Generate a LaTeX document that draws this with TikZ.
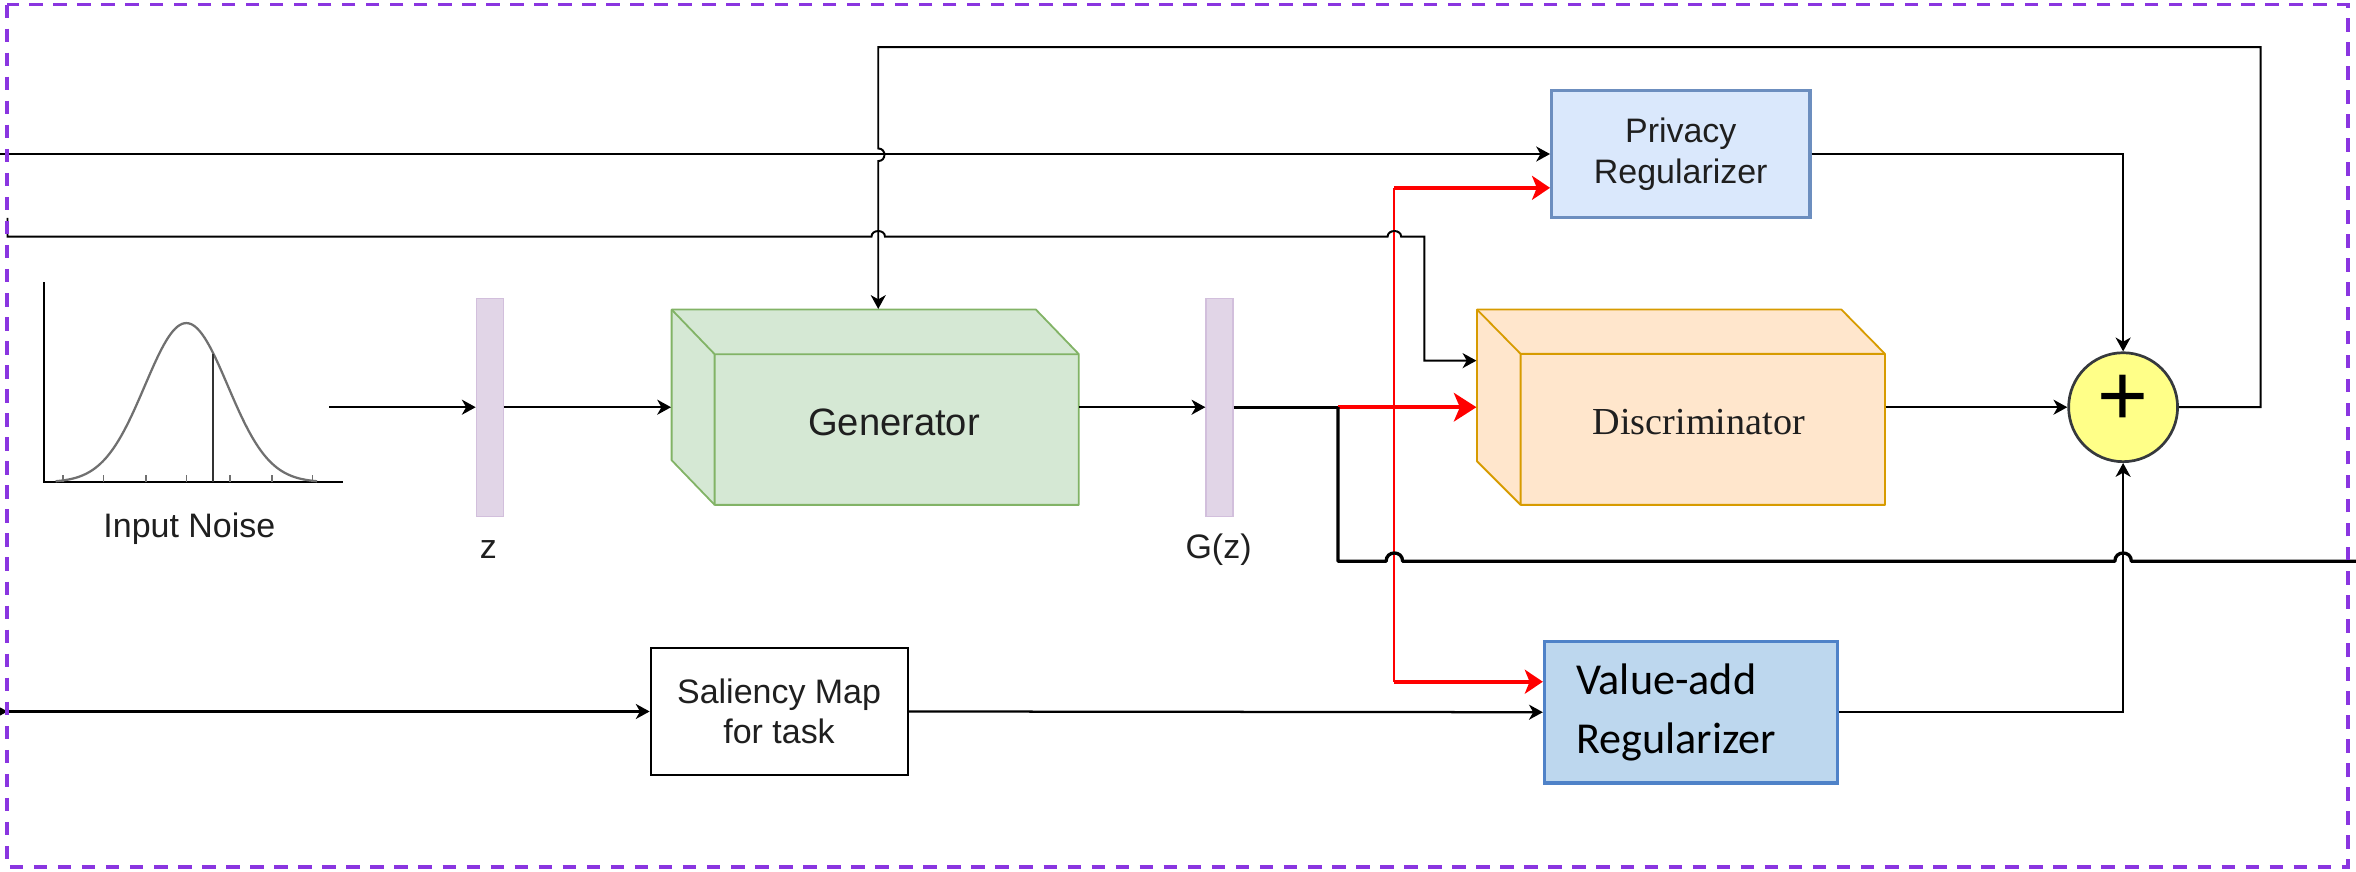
\documentclass[tikz,border=0pt]{standalone}
\usepackage{fontspec}
\setmainfont{Liberation Sans}
\newfontfamily\serifdisc{Liberation Serif}
\newfontfamily\calib{Carlito}
\usetikzlibrary{arrows.meta}
\definecolor{bordercol}{HTML}{8A35E0}
\definecolor{barfill}{HTML}{E1D5E7}
\definecolor{barline}{HTML}{D2BFDC}
\definecolor{genfill}{HTML}{D5E8D4}
\definecolor{genline}{HTML}{82B366}
\definecolor{discfill}{HTML}{FFE6CC}
\definecolor{discline}{HTML}{D79B00}
\definecolor{privfill}{HTML}{DAE8FC}
\definecolor{privline}{HTML}{6C8EBF}
\definecolor{valfill}{HTML}{BDD7EE}
\definecolor{valline}{HTML}{4F82C8}
\definecolor{plusfill}{HTML}{FFFF88}
\definecolor{plusline}{HTML}{36393D}
\definecolor{txt}{HTML}{1F1F1F}
\definecolor{bellcol}{HTML}{707070}
\begin{document}
\begin{tikzpicture}[x=0.5pt,y=-0.5pt,
  arr/.style={draw=black,line width=0.65pt,-{Stealth[length=4.6pt,width=5pt,inset=1.4pt]}},
  redarr/.style={draw=red,line width=1.2pt,-{Stealth[length=6pt,width=8pt,inset=1.6pt]}},
  redbigarr/.style={draw=red,line width=1.35pt,-{Stealth[length=7.5pt,width=9.5pt,inset=2pt]}},
  redln/.style={draw=red,line width=0.7pt},
  thickln/.style={draw=black,line width=1.1pt},
  lbl/.style={font=\fontsize{11.3}{13.5}\selectfont,text=txt,inner sep=0pt},
  bar/.style={rectangle,fill=barfill,draw=barline,line width=0.4pt,minimum width=9pt,minimum height=72.5pt,inner sep=0pt},
  holder/.style={rectangle,inner sep=0pt,minimum height=65pt},
  cubegen/.style={draw=genline,fill=genfill,line width=0.6pt,line join=round},
  cubedisc/.style={draw=discline,fill=discfill,line width=0.6pt,line join=round},
  privbox/.style={rectangle,draw=privline,fill=privfill,line width=1pt,minimum width=86pt,minimum height=42.5pt,inner sep=0pt,align=center,text=txt,font=\fontsize{11.3}{13.6}\selectfont},
  valbox/.style={rectangle,draw=valline,fill=valfill,line width=1.2pt,minimum width=97.5pt,minimum height=47pt,inner xsep=10.5pt,inner ysep=0pt,text width=76.5pt,align=left,text=black,font=\calib\fontsize{14.7}{19.75}\selectfont},
  salbox/.style={rectangle,draw=black,fill=white,line width=0.65pt,minimum width=85.5pt,minimum height=42.5pt,inner sep=0pt,align=center,text=txt,font=\fontsize{11.3}{13.25}\selectfont},
  plusnode/.style={circle,draw=plusline,fill=plusfill,line width=0.9pt,minimum size=36.25pt,inner sep=0pt},
  borderln/.style={draw=bordercol,line width=1.2pt,dash pattern=on 4.5pt off 3.5pt}
]
\useasboundingbox (0,0) rectangle (1568,580.3);

% ---------- input noise plot ----------
\draw[line width=0.7pt,black] (29,188) -- (29,321) -- (228,321);
\foreach \t in {42,69,97,124,153,181,208}
  \draw[line width=0.5pt,bellcol] (\t,321) -- (\t,316);
\draw[bellcol,line width=0.75pt] plot[smooth,domain=-87:87,samples=59] ({124+\x},{321-106*exp(-((\x/27.6)^2)/2)});
\draw[line width=0.7pt,black!80] (142,235.5) -- (142,321);
\node[lbl,anchor=base] (noiselbl) at (126,357.7) {Input Noise};
\coordinate (noiseout) at (219,271);

% ---------- bars ----------
\node[bar] (zbar) at (326,271) {};
\node[lbl,anchor=base] (zlbl) at (325,372) {z};
\node[bar] (gzbar) at (811.6,271) {};
\node[lbl,anchor=base] (gzlbl) at (811,372) {G(z)};

% ---------- generator cube ----------
\node[holder,minimum width=135.5pt] (gen) at (582.5,271) {};
\draw[cubegen] (447,206) -- (689.4,206) -- (718,235.7) -- (718,336) -- (475.6,336) -- (447,306.3) -- cycle;
\draw[cubegen,fill=none] (447,206) -- (475.6,235.7) -- (718,235.7) (475.6,235.7) -- (475.6,336);
\node[anchor=base,inner sep=0pt,text=txt,font=\fontsize{12.7}{15}\selectfont] (genlbl) at (595,290) {Generator};

% ---------- discriminator cube ----------
\node[holder,minimum width=135.75pt] (disc) at (1118.75,271) {};
\draw[cubedisc] (983,206) -- (1225.5,206) -- (1254.5,235.5) -- (1254.5,336) -- (1012,336) -- (983,307) -- cycle;
\draw[cubedisc,fill=none] (983,206) -- (1012,235.5) -- (1254.5,235.5) (1012,235.5) -- (1012,336);
\node[anchor=base,inner sep=0pt,text=txt,font=\serifdisc\fontsize{12.7}{15}\selectfont] (disclbl) at (1130.6,289) {Discriminator};

% ---------- boxes ----------
\node[privbox] (priv) at (1118.6,102.5) {Privacy\\Regularizer};
\node[valbox] (val) at (1125.5,474) {Value-add\\Regularizer};
\node[salbox] (sal) at (518.5,473.5) {Saliency Map\\for task};
\node[plusnode] (plus) at (1413,271) {};
\node[inner sep=0pt,font=\fontsize{29}{29}\selectfont] (pluslbl) at (1413,266.6) {+};

% ---------- coordinates ----------
\coordinate (in1) at (0,102.5);
\coordinate (in2) at (5,145);
\coordinate (in3pre) at (-10,473.5);
\coordinate (in3) at (5,473.5);
\coordinate (d1) at (948,157.5);
\coordinate (dbend) at (948,240);
\coordinate (split) at (890.5,271);
\coordinate (rtop) at (928,125);
\coordinate (rbot) at (928,453.7);
\coordinate (fbR) at (1504.5,31.4);
\coordinate (fbL) at (584.5,31.4);
\coordinate (outR) at (1570,373.5);

% ---------- red connectors ----------
\draw[redln] (rtop) -- (rbot);
\draw[redarr] (rtop) -- (rtop -| priv.west);
\draw[redarr] (rbot) -- (rbot -| val.west);
\draw[redbigarr] (split) -- (disc.west);

% ---------- black connectors ----------
\draw[arr] (noiseout) -- (zbar.west);
\draw[arr] (zbar.east) -- (gen.west);
\draw[arr] (gen.east) -- (gzbar.west);
\draw[thickln] (gzbar.east) -- (split);
\draw[thickln,line join=round] (split) -- (890.5,373.5) -- (922.5,373.5)
   .. controls (922.5,366.2) and (933.5,366.2) .. (933.5,373.5) -- (1407.5,373.5)
   .. controls (1407.5,366.2) and (1418.5,366.2) .. (1418.5,373.5) -- (outR);
\draw[arr] (disc.east) -- (plus.west);
\draw[arr] (priv.east) -| (plus.north);
\draw[arr] (val.east) -| (plus.south);
\draw[arr] (in1) -- (priv.west);
\draw[arr] (in2) -- (5,157.5) -- (580,157.5)
   .. controls (580,152.5) and (589,152.5) .. (589,157.5) -- (923.5,157.5)
   .. controls (923.5,152.5) and (932.5,152.5) .. (932.5,157.5) -- (d1) -- (dbend) -- (dbend -| disc.west);
\draw[arr] (plus.east) -- (fbR |- plus.east) -- (fbR) -- (fbL) -- (584.5,98.8)
   .. controls (590,98.8) and (590,107.2) .. (584.5,107.2) -- (fbL |- gen.north);
\draw[arr] (in3pre) -- (in3);
\draw[arr,line width=0.75pt] (in3) -- (sal.west);
\draw[arr,line width=0.75pt] (sal.east) -- (val.west);

% ---------- frame ----------
\draw[borderln] (4.5,3) rectangle (1562.5,577);
\end{tikzpicture}
\end{document}
